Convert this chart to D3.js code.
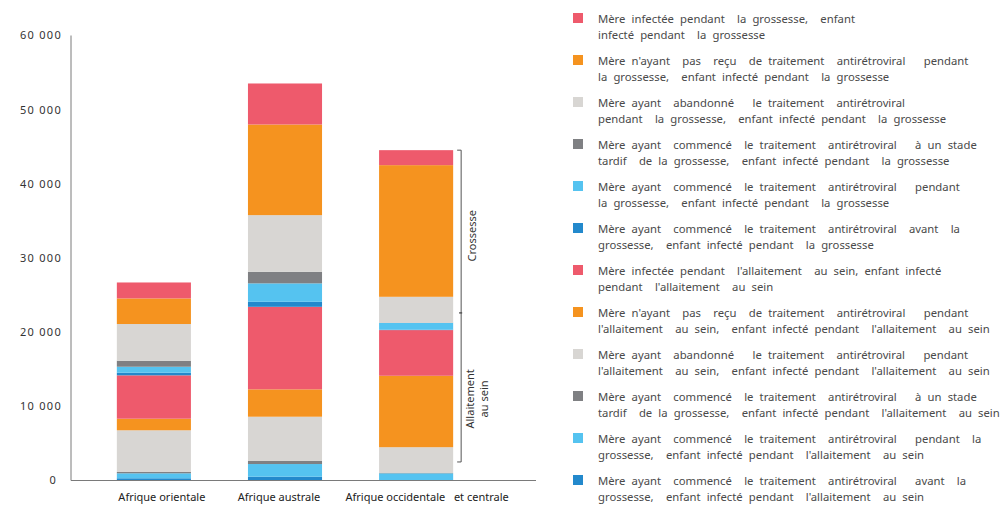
<!DOCTYPE html>
<html>
<head>
<meta charset="utf-8">
<script src="https://cdn.jsdelivr.net/npm/d3@7"></script>
<style>
  html, body { margin: 0; padding: 0; background: #fff; }
  svg { display: block; }
  .tick-label { font-family: "Noto Sans", sans-serif; font-size: 11px; fill: #333; letter-spacing: 1.3px; }
  .cat-label { font-family: "Noto Sans", sans-serif; font-size: 11px; fill: #222; white-space: pre; }
  .legend-text { font-family: "Noto Sans", sans-serif; font-size: 11.3px; fill: #4a4a4a; word-spacing: 3.2px; white-space: pre; }
  .bracket-label { font-family: "Noto Sans", sans-serif; font-size: 11px; fill: #333; }
</style>
</head>
<body>
<svg id="chart" width="1006" height="511"></svg>
<script>
// Regions on the x axis
const regions = ["Afrique orientale", "Afrique australe", "Afrique occidentale et centrale"];
const regionLabels = ["Afrique orientale", "Afrique australe", "Afrique occidentale   et centrale"];

// New child infections, one array per transmission pathway (values per region).
// Pregnancy pathways
const grossInfectee   = [2150, 5530, 2020];
const grossSansTAR    = [3450, 12220, 17750];
const grossAbandon    = [4950, 7640, 3490];
const grossTardif     = [810, 1560, 40];
const grossPendant    = [810, 2480, 900];
const grossAvant      = [350, 680, 60];
// Breastfeeding pathways
const allaitInfectee  = [5850, 11130, 6160];
const allaitSansTAR   = [1560, 3690, 9630];
const allaitAbandon   = [5620, 5970, 3480];
const allaitTardif    = [180, 410, 40];
const allaitPendant   = [670, 1710, 910];
const allaitAvant     = [300, 510, 60];

// Y axis ticks
const yTicks = [0, 10000, 20000, 30000, 40000, 50000, 60000];

// Bracket marks on the right of the last bar (values on the y scale)
const bracketMid = 22600;
const bracketLow = 2500;
const labelCrossesse = 33000;
const labelAllaitement = 11000;

// Series in legend order (top of the stack first)
const series = [
  { key: "grossInfectee",  values: grossInfectee,  color: "#EE5A6C",
    lines: ["Mère infectée pendant  la grossesse,  enfant", "infecté pendant  la grossesse"] },
  { key: "grossSansTAR",   values: grossSansTAR,   color: "#F5931F",
    lines: ["Mère n'ayant  pas  reçu  de traitement  antirétroviral   pendant", "la grossesse,  enfant infecté pendant  la grossesse"] },
  { key: "grossAbandon",   values: grossAbandon,   color: "#D8D6D3",
    lines: ["Mère ayant  abandonné   le traitement  antirétroviral", "pendant  la grossesse,  enfant infecté pendant  la grossesse"] },
  { key: "grossTardif",    values: grossTardif,    color: "#7F8083",
    lines: ["Mère ayant  commencé  le traitement  antirétroviral   à un stade", "tardif  de la grossesse,  enfant infecté pendant  la grossesse"] },
  { key: "grossPendant",   values: grossPendant,   color: "#55C3F0",
    lines: ["Mère ayant  commencé  le traitement  antirétroviral   pendant", "la grossesse,  enfant infecté pendant  la grossesse"] },
  { key: "grossAvant",     values: grossAvant,     color: "#2389CC",
    lines: ["Mère ayant  commencé  le traitement  antirétroviral  avant  la", "grossesse,  enfant infecté pendant  la grossesse"] },
  { key: "allaitInfectee", values: allaitInfectee, color: "#EE5A6C",
    lines: ["Mère infectée pendant  l'allaitement  au sein, enfant infecté", "pendant  l'allaitement  au sein"] },
  { key: "allaitSansTAR",  values: allaitSansTAR,  color: "#F5931F",
    lines: ["Mère n'ayant  pas  reçu  de traitement  antirétroviral   pendant", "l'allaitement  au sein,  enfant infecté pendant  l'allaitement  au sein"] },
  { key: "allaitAbandon",  values: allaitAbandon,  color: "#D8D6D3",
    lines: ["Mère ayant  abandonné   le traitement  antirétroviral   pendant", "l'allaitement  au sein,  enfant infecté pendant  l'allaitement  au sein"] },
  { key: "allaitTardif",   values: allaitTardif,   color: "#7F8083",
    lines: ["Mère ayant  commencé  le traitement  antirétroviral   à un stade", "tardif  de la grossesse,  enfant infecté pendant  l'allaitement  au sein"] },
  { key: "allaitPendant",  values: allaitPendant,  color: "#55C3F0",
    lines: ["Mère ayant  commencé  le traitement  antirétroviral   pendant  la", "grossesse,  enfant infecté pendant  l'allaitement  au sein"] },
  { key: "allaitAvant",    values: allaitAvant,    color: "#2389CC",
    lines: ["Mère ayant  commencé  le traitement  antirétroviral   avant  la", "grossesse,  enfant infecté pendant  l'allaitement  au sein"] }
];

const svg = d3.select("#chart");

// Table for d3.stack: one row per region
const table = regions.map((r, i) => {
  const row = { region: r };
  series.forEach(s => { row[s.key] = s.values[i]; });
  return row;
});

// Stack from the bottom: last legend entry sits on the baseline
const stackKeys = series.map(s => s.key).slice().reverse();
const stacked = d3.stack().keys(stackKeys)(table);
const colorOf = Object.fromEntries(series.map(s => [s.key, s.color]));

const y = d3.scaleLinear().domain([0, 60000]).range([480.5, 35.5]);
const x = d3.scaleBand().domain(regions).range([88, 482]).paddingInner(0.435).paddingOuter(0.22);

const axisX0 = 71, axisX1 = 536;

// Bars
svg.append("g").selectAll("g")
  .data(stacked)
  .join("g")
  .attr("fill", d => colorOf[d.key])
  .selectAll("rect")
  .data(d => d)
  .join("rect")
  .attr("x", d => x(d.data.region))
  .attr("width", x.bandwidth())
  .attr("y", d => y(d[1]))
  .attr("height", d => Math.max(0, y(d[0]) - y(d[1])));

// Axes lines
svg.append("line")
  .attr("x1", axisX0).attr("x2", axisX0)
  .attr("y1", y(60000)).attr("y2", y(0))
  .attr("stroke", "#7a7a7a").attr("stroke-width", 1);
svg.append("line")
  .attr("x1", axisX0).attr("x2", axisX1)
  .attr("y1", y(0)).attr("y2", y(0))
  .attr("stroke", "#7a7a7a").attr("stroke-width", 1);

// Y tick labels
const fmt = v => d3.format(",")(v).replace(/,/g, " ");
svg.append("g").selectAll("text")
  .data(yTicks)
  .join("text")
  .attr("class", "tick-label")
  .attr("x", d => d === 0 ? 57 : 62)
  .attr("y", d => y(d))
  .attr("dy", "0.35em")
  .attr("text-anchor", "end")
  .text(d => fmt(d));

// Category labels
const labelShift = [8, -6, 11];
svg.append("g").selectAll("text")
  .data(regions)
  .join("text")
  .attr("class", "cat-label")
  .attr("x", (d, i) => x(d) + x.bandwidth() / 2 + labelShift[i])
  .attr("y", 501)
  .attr("text-anchor", "middle")
  .text((d, i) => regionLabels[i]);

// Bracket beside the last bar
const lastRegion = regions[regions.length - 1];
const lastTotal = d3.sum(series, s => s.values[regions.length - 1]);
const bx = x(lastRegion) + x.bandwidth() + 8;
const bracket = svg.append("g").attr("stroke", "#555").attr("stroke-width", 1).attr("fill", "none");
bracket.append("line").attr("x1", bx).attr("x2", bx).attr("y1", y(lastTotal)).attr("y2", y(bracketLow));
bracket.append("line").attr("x1", bx - 4).attr("x2", bx).attr("y1", y(lastTotal)).attr("y2", y(lastTotal));
bracket.append("line").attr("x1", bx - 4).attr("x2", bx).attr("y1", y(bracketLow)).attr("y2", y(bracketLow));
bracket.append("line").attr("x1", bx - 2).attr("x2", bx + 1).attr("y1", y(bracketMid)).attr("y2", y(bracketMid)).attr("stroke-width", 1.5);

svg.append("text")
  .attr("class", "bracket-label")
  .attr("transform", `translate(${bx + 15},${y(labelCrossesse)}) rotate(-90)`)
  .attr("text-anchor", "middle")
  .text("Crossesse");
const allaitLabel = svg.append("text")
  .attr("class", "bracket-label")
  .attr("transform", `translate(${bx + 13},${y(labelAllaitement)}) rotate(-90)`)
  .attr("text-anchor", "middle");
allaitLabel.append("tspan").attr("x", 0).attr("dy", 0).text("Allaitement");
allaitLabel.append("tspan").attr("x", 0).attr("dy", "1.25em").text("au sein");

// Legend
const legendX = 573, legendY0 = 23, legendStep = 42, lineGap = 16;
const legend = svg.append("g").selectAll("g")
  .data(series)
  .join("g")
  .attr("transform", (d, i) => `translate(${legendX},${legendY0 + i * legendStep})`);
legend.append("rect")
  .attr("x", 0).attr("y", -10)
  .attr("width", 10).attr("height", 10)
  .attr("fill", d => d.color);
legend.append("text")
  .attr("class", "legend-text")
  .selectAll("tspan")
  .data(d => d.lines)
  .join("tspan")
  .attr("x", 25)
  .attr("y", (d, i) => i * lineGap)
  .text(d => d);
</script>
</body>
</html>
